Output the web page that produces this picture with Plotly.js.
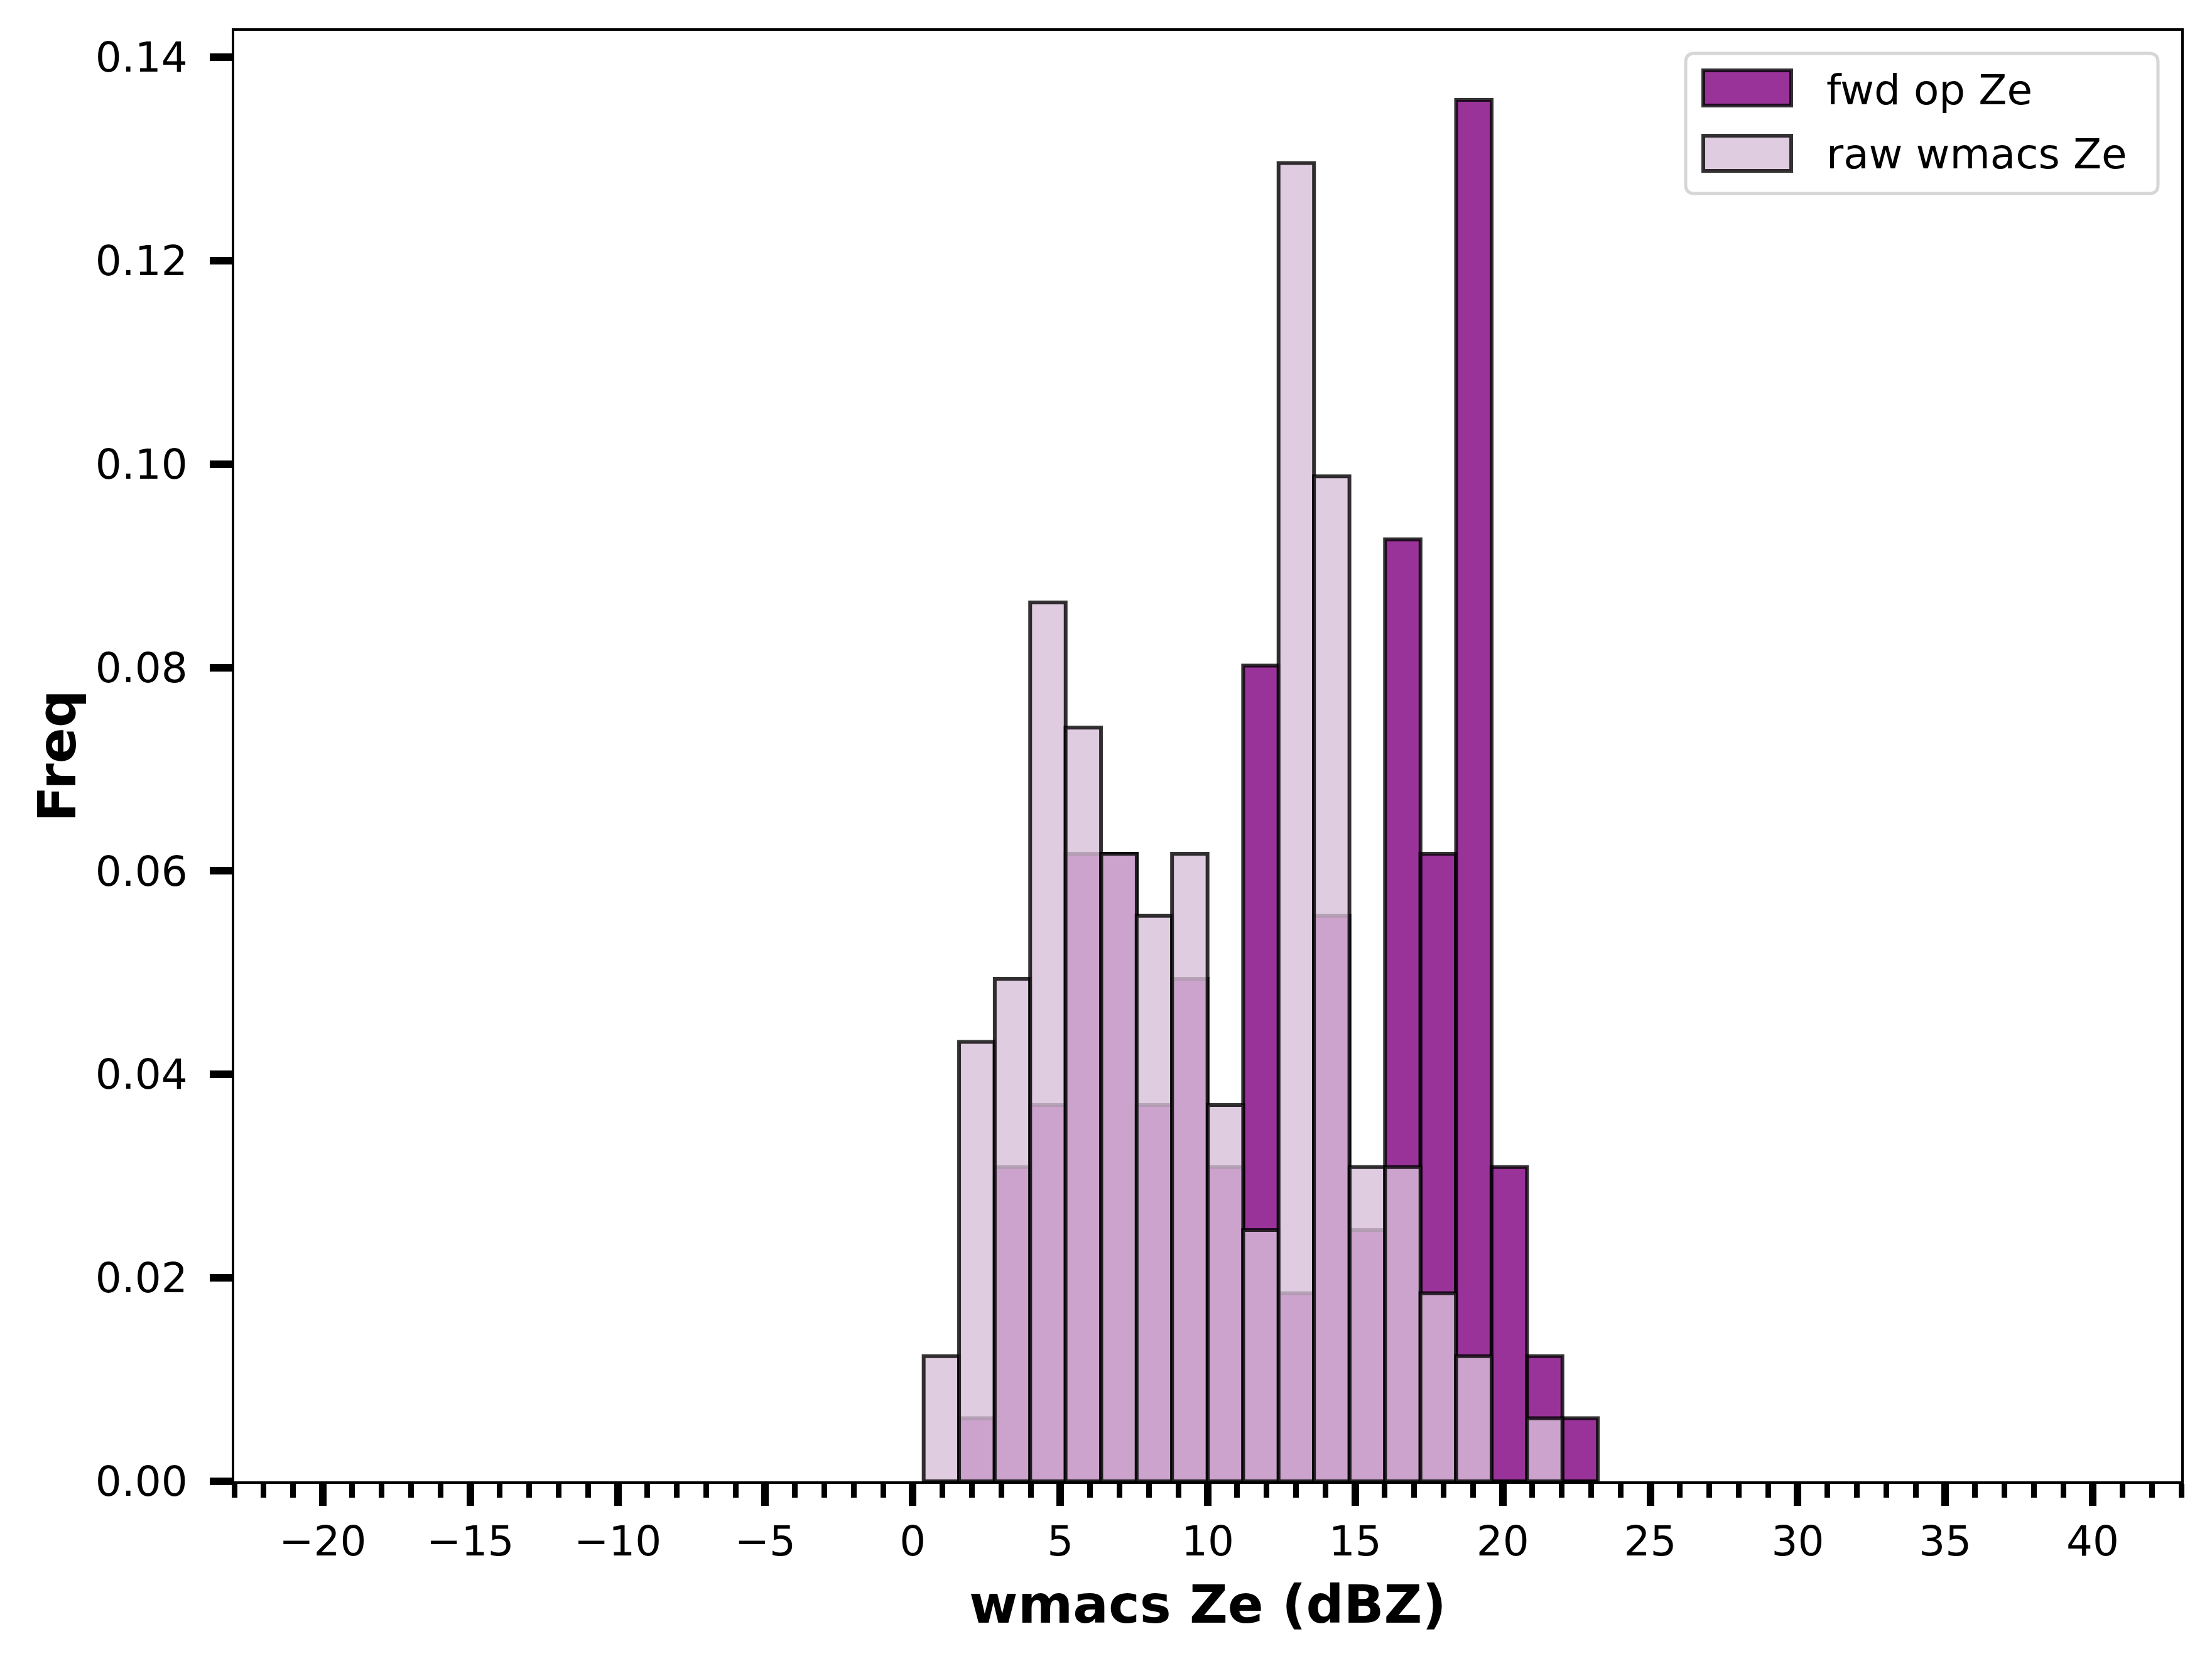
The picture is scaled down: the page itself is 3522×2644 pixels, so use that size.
<!DOCTYPE html>
<html>
<head>
<meta charset="utf-8">
<script src="https://cdn.plot.ly/plotly-3.0.1.min.js"></script>
<style>
    html, body { margin: 0; padding: 0; background: #ffffff; }
</style>
</head>
<body>
<div id="plot1"></div>
<script>
// histogram bins (left edges, dBZ) and bin width
var binLefts = [0.37, 1.57, 2.78, 3.98, 5.18, 6.39, 7.59, 8.79, 10.00, 11.20,
                12.40, 13.60, 14.81, 16.01, 17.21, 18.42, 19.62, 20.82, 22.02];
var binWidth = 1.203;

// density per bin
var fwdOpZe = [0, 0.0062, 0.0309, 0.0370, 0.0617, 0.0617, 0.0370, 0.0494, 0.0309, 0.0802,
               0.0185, 0.0556, 0.0247, 0.0926, 0.0617, 0.1358, 0.0309, 0.0123, 0.0062];
var rawWmacsZe = [0.0123, 0.0432, 0.0494, 0.0864, 0.0741, 0.0617, 0.0556, 0.0617, 0.0370, 0.0247,
                  0.1296, 0.0988, 0.0309, 0.0309, 0.0185, 0.0123, 0, 0.0062, 0];

var yTicks = [0, 0.02, 0.04, 0.06, 0.08, 0.10, 0.12, 0.14];
var legendNames = ['fwd op Ze', 'raw wmacs Ze'];

var fwdColor = 'rgba(128,0,128,0.8)';
var rawColor = 'rgba(216,191,216,0.8)';
var edgeColor = 'rgba(0,0,0,0.8)';
var edgeWidth = 6;
var font = 'DejaVu Sans, Liberation Sans, sans-serif';

var traces = [{
    type: 'bar',
    x: binLefts,
    y: fwdOpZe,
    width: binWidth,
    offset: 0,
    name: legendNames[0],
    marker: { color: fwdColor, line: { color: edgeColor, width: edgeWidth } },
    showlegend: false
}, {
    type: 'bar',
    x: binLefts,
    y: rawWmacsZe,
    width: binWidth,
    offset: 0,
    name: legendNames[1],
    marker: { color: rawColor, line: { color: edgeColor, width: edgeWidth } },
    showlegend: false
}];

// rounded legend frame, in pixels from the top-right corner of the axes
function roundRect(x0, y0, x1, y1, r) {
    return 'M' + (x0 + r) + ',' + y0 + ' L' + (x1 - r) + ',' + y0 + ' Q' + x1 + ',' + y0 + ' ' + x1 + ',' + (y0 - r) +
        ' L' + x1 + ',' + (y1 + r) + ' Q' + x1 + ',' + y1 + ' ' + (x1 - r) + ',' + y1 +
        ' L' + (x0 + r) + ',' + y1 + ' Q' + x0 + ',' + y1 + ' ' + x0 + ',' + (y1 + r) +
        ' L' + x0 + ',' + (y0 - r) + ' Q' + x0 + ',' + y0 + ' ' + (x0 + r) + ',' + y0 + ' Z';
}

var shapes = [{
    type: 'path', xref: 'paper', yref: 'paper',
    xsizemode: 'pixel', ysizemode: 'pixel', xanchor: 1, yanchor: 1,
    path: roundRect(-789, -36, -37, -259, 14),
    fillcolor: 'rgba(255,255,255,0.8)',
    line: { color: '#d6d6d6', width: 5 }
}, {
    type: 'rect', xref: 'paper', yref: 'paper',
    xsizemode: 'pixel', ysizemode: 'pixel', xanchor: 1, yanchor: 1,
    x0: -761, x1: -621, y0: -63, y1: -119,
    fillcolor: fwdColor, line: { color: edgeColor, width: edgeWidth }
}, {
    type: 'rect', xref: 'paper', yref: 'paper',
    xsizemode: 'pixel', ysizemode: 'pixel', xanchor: 1, yanchor: 1,
    x0: -761, x1: -621, y0: -167, y1: -223,
    fillcolor: rawColor, line: { color: edgeColor, width: edgeWidth }
}];

var annotations = [{
    xref: 'paper', yref: 'paper', x: 1, y: 1, xanchor: 'left', yanchor: 'middle',
    xshift: -567, yshift: -94, showarrow: false, text: legendNames[0],
    font: { family: font, size: 66, color: '#000000' }
}, {
    xref: 'paper', yref: 'paper', x: 1, y: 1, xanchor: 'left', yanchor: 'middle',
    xshift: -567, yshift: -196, showarrow: false, text: legendNames[1],
    font: { family: font, size: 66, color: '#000000' }
}];

var layout = {
    width: 3522,
    height: 2644,
    margin: { l: 373, r: 49, t: 49, b: 286, pad: 0 },
    paper_bgcolor: '#ffffff',
    plot_bgcolor: '#ffffff',
    barmode: 'overlay',
    bargap: 0,
    showlegend: false,
    font: { family: font, size: 66, color: '#000000' },
    xaxis: {
        range: [-23, 43],
        tick0: 0,
        dtick: 5,
        ticks: 'outside',
        ticklen: 35,
        tickwidth: 12,
        tickcolor: '#000000',
        ticklabelstandoff: 0,
        minor: { dtick: 1, ticks: 'outside', ticklen: 22, tickwidth: 9, tickcolor: '#000000' },
        showgrid: false,
        zeroline: false,
        showline: true,
        mirror: true,
        linecolor: '#000000',
        linewidth: 4,
        tickfont: { family: font, size: 66 },
        title: { text: 'wmacs Ze (dBZ)', standoff: 34, font: { family: font, size: 84, weight: 'bold' } }
    },
    yaxis: {
        range: [0, 0.1426],
        tickvals: yTicks,
        tickformat: '.2f',
        ticks: 'outside',
        ticklen: 35,
        tickwidth: 12,
        tickcolor: '#000000',
        ticklabelstandoff: 22,
        showgrid: false,
        zeroline: false,
        showline: true,
        mirror: true,
        linecolor: '#000000',
        linewidth: 4,
        tickfont: { family: font, size: 66 },
        title: { text: 'Freq', standoff: 4, font: { family: font, size: 84, weight: 'bold' } }
    },
    shapes: shapes,
    annotations: annotations
};

Plotly.newPlot('plot1', traces, layout, { displayModeBar: false, staticPlot: true });
</script>
</body>
</html>
